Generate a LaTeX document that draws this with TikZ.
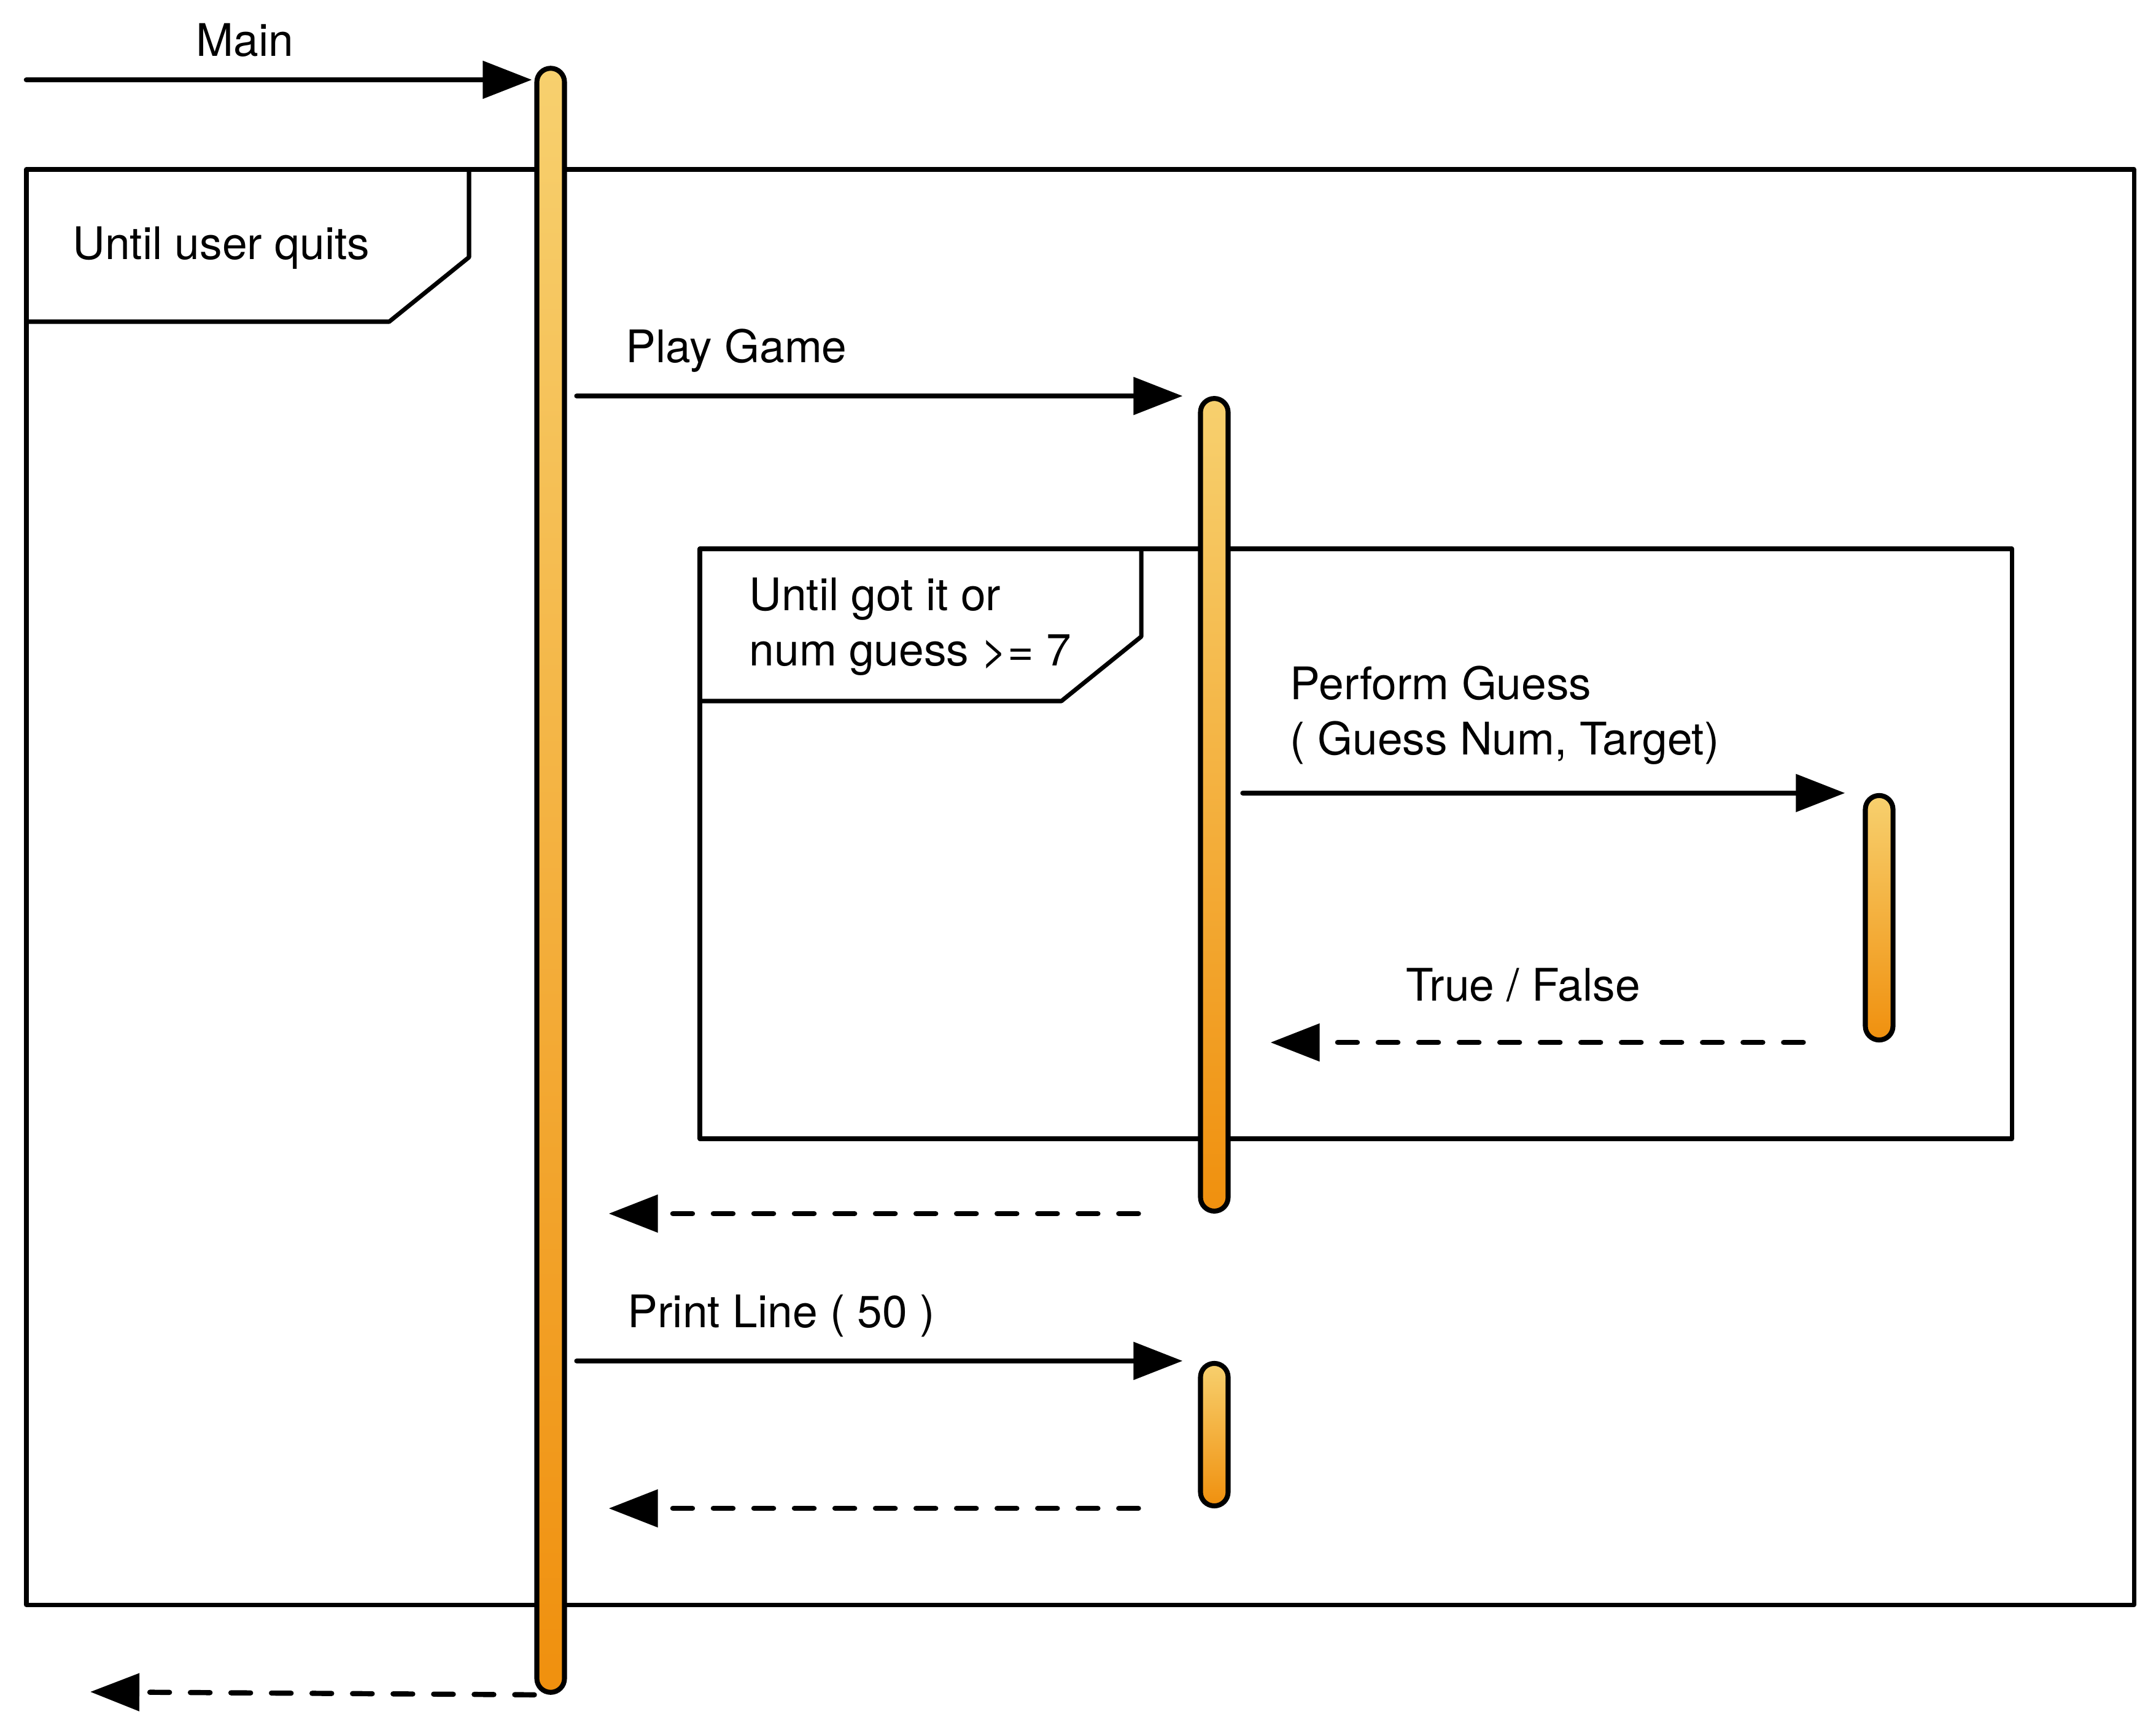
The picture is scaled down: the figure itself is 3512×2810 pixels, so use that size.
\documentclass[tikz,border=0pt]{standalone}
\usepackage{fontspec}
\setmainfont{TeX Gyre Heros}
\usetikzlibrary{arrows.meta,calc}
\definecolor{barTop}{HTML}{F7D06E}
\definecolor{barBot}{HTML}{F0900E}
\tikzset{
	bar/.style={draw,line width=2.3pt,minimum width=0.45cm,inner sep=0pt,rounded corners=0.225cm,top color=barTop,bottom color=barBot},
	msg/.style={line width=2.4pt,-{Triangle[length=0.8cm,width=0.6cm]}},
	ret/.style={msg,dash pattern=on 0.32cm off 0.34cm},
	frm/.style={line width=2pt},
	lbl/.style={inner sep=0pt,anchor=base west}
}
\begin{document}
\begin{tikzpicture}[x=0.01cm,y=-0.01cm,font=\fontsize{20.8}{25.4}\selectfont,line join=round,line cap=round]
	\useasboundingbox (0,0) rectangle (3512,2810);
	\path
	(43,130) coordinate (caller)
	(147,2756) coordinate (back)
	(43,276) coordinate (L1)
	(3476,2614) coordinate (R1)
	(1140,894) coordinate (L2)
	(3277,1855) coordinate (R2)
	;
	% loop frames
	\draw[frm] (L1) rectangle (R1);
	\draw[frm] (L1) -| (764,419) -- (634,524) -- (43,524);
	\draw[frm] (L2) rectangle (R2);
	\draw[frm] (L2) -| (1859,1037) -- (1729,1142) -- (1140,1142);
	\node[lbl] (loop1) at (118,423) {Until user quits};
	\node[lbl,align=left] (loop2) at (1220,1084) {Until got it or\\num guess >= 7};
	% activations
	\node[bar,minimum height=26.44cm] (main) at (897,1434) {};
	\node[bar,minimum height=13.23cm] (game) at (1978,1311) {};
	\node[bar,minimum height=3.98cm] (guess) at (3061,1495) {};
	\node[bar,minimum height=2.32cm] (print) at (1978,2337) {};
	% messages
	\draw[msg,shorten >=0.04cm] (caller) -- (caller -| main.west);
	\node[lbl] (mainlbl) at (319,92) {Main};
	\draw[msg,shorten <=0.16cm,shorten >=0.25cm] (main.east |- game.north) -- (game.north west);
	\node[lbl] (playlbl) at (1019,591) {Play Game};
	\draw[msg,shorten <=0.2cm,shorten >=0.29cm] (game.east |- guess.north) -- (guess.north west);
	\node[lbl,align=left] (guesslbl) at (2101,1229) {Perform Guess\\( Guess Num, Target)};
	\draw[ret,shorten <=0.97cm,shorten >=0.65cm] (guess.south west) -- (game.east |- guess.south);
	\node[lbl] (tflbl) at (2290,1630) {True / False};
	\draw[ret,shorten <=0.97cm,shorten >=0.68cm] (game.south west) -- (main.east |- game.south);
	\draw[msg,shorten <=0.16cm,shorten >=0.25cm] (main.east |- print.north) -- (print.north west);
	\node[lbl] (printlbl) at (1022,2162) {Print Line ( 50 )};
	\draw[ret,shorten <=0.97cm,shorten >=0.68cm] (print.south west) -- (main.east |- print.south);
	\draw[ret] (main.south west) -- (back);
\end{tikzpicture}
\end{document}
